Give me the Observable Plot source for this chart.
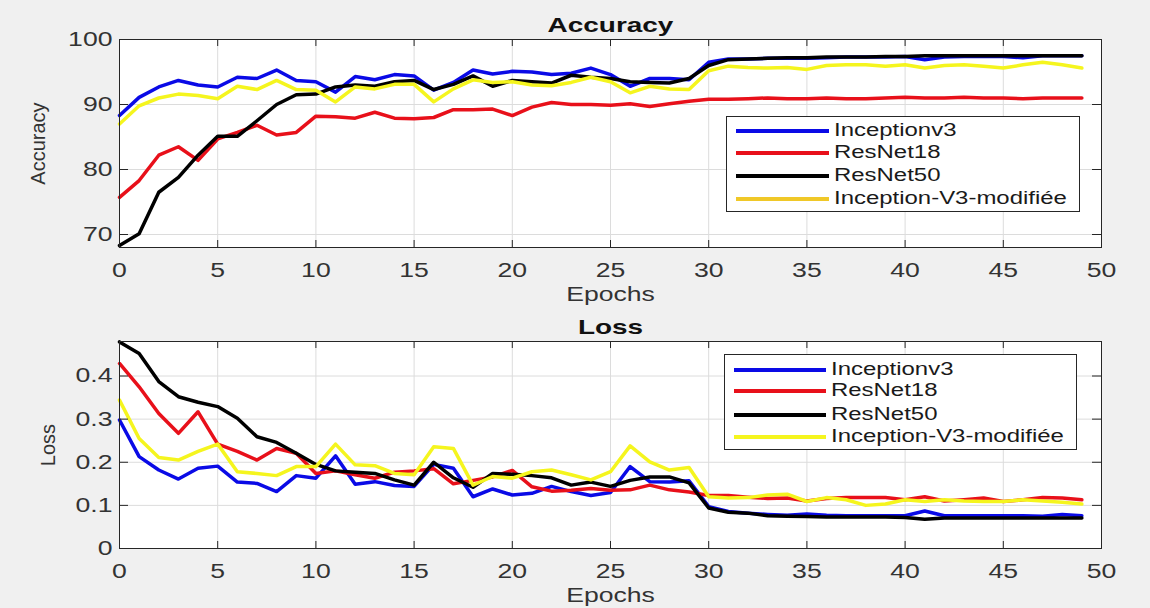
<!DOCTYPE html>
<html>
<head>
<meta charset="utf-8">
<script src="https://cdn.jsdelivr.net/npm/d3@7"></script>
<script src="https://cdn.jsdelivr.net/npm/@observablehq/plot@0.6"></script>
<style>
  html, body { margin: 0; padding: 0; background: #f0f0f0; }
  #wrap { position: relative; width: 1150px; height: 608px; background: #f0f0f0; overflow: hidden; font-family: "Liberation Sans", Arial, sans-serif; }
  .panel { position: absolute; left: 0; width: 1150px; height: 304px; }
  .legend { position: absolute; background: #fff; border: 1px solid #262626; box-sizing: border-box; }
  .swatch { position: absolute; height: 3.5px; }
  .label { position: absolute; font-size: 18px; line-height: 18px; color: #1a1a1a; white-space: nowrap; transform: scaleX(1.33); transform-origin: left center; }
</style>
</head>
<body>
<div id="wrap"></div>
<script>
// ---------- data ----------
const seriesNames = ["Inceptionv3", "ResNet18", "ResNet50", "Inception-V3-modifiée"];
const seriesColors = ["#0a0ae6", "#e8101a", "#000000", "#f5f51e"];
const legendTopColors = ["#0a0ae6", "#e8101a", "#000000", "#f0c828"];

const epochs = d3.range(0, 50);
const xTicks = [0, 5, 10, 15, 20, 25, 30, 35, 40, 45, 50];
const accTicks = [70, 80, 90, 100];
const lossTicks = [0, 0.1, 0.2, 0.3, 0.4];

const accInceptionv3 = [88.3, 91.1, 92.7, 93.7, 93.0, 92.7, 94.2, 94.0, 95.3, 93.7,
  93.5, 91.9, 94.3, 93.8, 94.6, 94.4, 92.2, 93.4, 95.3, 94.7,
  95.1, 95.0, 94.6, 94.8, 95.6, 94.6, 92.8, 94.0, 94.0, 93.8,
  96.5, 97.0, 97.0, 97.1, 97.1, 97.1, 97.2, 97.3, 97.3, 97.3,
  97.4, 96.9, 97.3, 97.4, 97.4, 97.4, 97.2, 97.5, 97.5, 97.5];
const accResNet18 = [75.7, 78.3, 82.2, 83.5, 81.4, 84.7, 85.7, 86.8, 85.3, 85.7,
  88.2, 88.1, 87.9, 88.8, 87.9, 87.8, 88.0, 89.2, 89.2, 89.3,
  88.3, 89.6, 90.3, 90.0, 90.0, 89.9, 90.1, 89.7, 90.1, 90.5,
  90.8, 90.8, 90.9, 91.0, 90.9, 90.9, 91.0, 90.9, 90.9, 91.0,
  91.1, 91.0, 91.0, 91.1, 91.0, 91.0, 90.9, 91.0, 91.0, 91.0];
const accResNet50 = [68.3, 70.1, 76.5, 78.8, 82.2, 85.1, 85.1, 87.5, 90.0, 91.5,
  91.6, 92.7, 93.0, 92.8, 93.5, 93.7, 92.3, 93.1, 94.4, 92.8,
  93.7, 93.5, 93.3, 94.5, 94.2, 94.0, 93.5, 93.4, 93.3, 94.0,
  96.0, 96.9, 97.0, 97.1, 97.2, 97.2, 97.3, 97.3, 97.3, 97.4,
  97.4, 97.5, 97.5, 97.5, 97.5, 97.5, 97.5, 97.5, 97.5, 97.5];
const accModified = [87.0, 89.8, 91.0, 91.6, 91.4, 90.9, 92.8, 92.3, 93.7, 92.3,
  92.2, 90.4, 92.7, 92.4, 93.1, 93.1, 90.4, 92.4, 93.8, 93.4,
  93.5, 93.0, 92.9, 93.4, 94.2, 93.5, 91.8, 92.8, 92.4, 92.3,
  95.2, 95.9, 95.7, 95.6, 95.7, 95.4, 96.0, 96.1, 96.1, 95.9,
  96.1, 95.6, 96.0, 96.1, 95.9, 95.6, 96.1, 96.5, 96.1, 95.6];

const lossInceptionv3 = [0.298, 0.213, 0.182, 0.161, 0.186, 0.191, 0.154, 0.151, 0.132, 0.169,
  0.163, 0.215, 0.149, 0.155, 0.146, 0.144, 0.195, 0.186, 0.120, 0.138,
  0.124, 0.128, 0.144, 0.132, 0.123, 0.130, 0.190, 0.155, 0.154, 0.157,
  0.097, 0.086, 0.082, 0.079, 0.077, 0.080, 0.077, 0.076, 0.076, 0.076,
  0.076, 0.087, 0.076, 0.076, 0.076, 0.076, 0.076, 0.075, 0.079, 0.076];
const lossResNet18 = [0.429, 0.375, 0.313, 0.267, 0.317, 0.242, 0.225, 0.205, 0.232, 0.221,
  0.174, 0.180, 0.171, 0.163, 0.177, 0.180, 0.185, 0.150, 0.158, 0.166,
  0.181, 0.143, 0.133, 0.135, 0.139, 0.135, 0.136, 0.147, 0.136, 0.131,
  0.123, 0.123, 0.119, 0.116, 0.117, 0.110, 0.116, 0.118, 0.118, 0.118,
  0.113, 0.120, 0.110, 0.113, 0.117, 0.109, 0.113, 0.118, 0.117, 0.113];
const lossResNet50 = [0.479, 0.452, 0.387, 0.352, 0.339, 0.329, 0.302, 0.259, 0.246, 0.221,
  0.195, 0.180, 0.177, 0.174, 0.159, 0.147, 0.200, 0.164, 0.142, 0.174,
  0.172, 0.169, 0.164, 0.147, 0.154, 0.144, 0.158, 0.166, 0.166, 0.152,
  0.094, 0.084, 0.082, 0.076, 0.075, 0.074, 0.073, 0.073, 0.073, 0.073,
  0.072, 0.068, 0.071, 0.071, 0.071, 0.071, 0.071, 0.071, 0.071, 0.071];
const lossModified = [0.344, 0.255, 0.211, 0.205, 0.225, 0.242, 0.178, 0.174, 0.169, 0.190,
  0.190, 0.242, 0.194, 0.192, 0.174, 0.171, 0.236, 0.232, 0.147, 0.167,
  0.163, 0.178, 0.182, 0.171, 0.159, 0.178, 0.238, 0.201, 0.182, 0.188,
  0.120, 0.117, 0.118, 0.124, 0.126, 0.109, 0.118, 0.113, 0.100, 0.103,
  0.113, 0.109, 0.113, 0.110, 0.109, 0.109, 0.113, 0.110, 0.107, 0.103];

// long-format tables built from the arrays
function toRows(arrays) {
  const rows = [];
  arrays.forEach((arr, i) => arr.forEach((v, j) => rows.push({epoch: epochs[j], value: v, series: seriesNames[i]})));
  return rows;
}
const accRows = toRows([accInceptionv3, accResNet18, accResNet50, accModified]);
const lossRows = toRows([lossInceptionv3, lossResNet18, lossResNet50, lossModified]);

// ---------- chart ----------
const W = 1150, H = 304;
const FONT = "'Liberation Sans', Arial, Helvetica, sans-serif";
const gridColor = "#dcdcdc";
const axisColor = "#262626";
const fmt = d => String(d);

function panel({rows, yDomain, yTicks, title, ylabel, mt, mb, ml, mr, ylabelOffset}) {
  const fw = W - ml - mr, fh = H - mt - mb;
  const tx = 7, ty = 9; // inner tick lengths
  return Plot.plot({
    width: W, height: H,
    marginTop: mt, marginBottom: mb, marginLeft: ml, marginRight: mr,
    style: {background: "transparent", fontFamily: FONT, fontSize: "20px", color: "#333333", overflow: "visible"},
    x: {domain: [0, 50]},
    y: {domain: yDomain},
    color: {domain: seriesNames, range: seriesColors},
    marks: [
      Plot.frame({fill: "white", stroke: null}),
      Plot.gridX(xTicks, {stroke: gridColor, strokeOpacity: 1}),
      Plot.gridY(yTicks, {stroke: gridColor, strokeOpacity: 1}),
      Plot.line(rows, {x: "epoch", y: "value", z: "series", stroke: "series", strokeWidth: 3.5, strokeLinejoin: "round", strokeLinecap: "round"}),
      Plot.tickX(xTicks, {x: d => d, insetTop: fh - tx, stroke: axisColor}),
      Plot.tickX(xTicks, {x: d => d, insetBottom: fh - tx, stroke: axisColor}),
      Plot.tickY(yTicks, {y: d => d, insetLeft: fw - ty, stroke: axisColor}),
      Plot.tickY(yTicks, {y: d => d, insetRight: fw - ty, stroke: axisColor}),
      Plot.frame({stroke: axisColor, strokeWidth: 1}),
      Plot.axisX({ticks: xTicks, tickFormat: fmt, tickSize: 0, tickPadding: 15, fontSize: 20, fill: "#333333",
        label: "Epochs", labelAnchor: "center", labelOffset: 53, labelArrow: "none"}),
      Plot.axisY({ticks: yTicks, tickFormat: fmt, tickSize: 0, tickPadding: 7, fontSize: 20, fill: "#333333",
        label: ylabel, labelAnchor: "center", labelOffset: ylabelOffset, labelArrow: "none"}),
      Plot.text([title], {text: d => d, frameAnchor: "top", lineAnchor: "bottom", dy: -8,
        fontWeight: "bold", fontSize: 21, fill: "#111111"})
    ]
  });
}

const wrap = document.getElementById("wrap");

const topPlot = panel({rows: accRows, yDomain: [68, 100], yTicks: accTicks, title: "Accuracy", ylabel: "Accuracy",
  mt: 39, mb: 57, ml: 119, mr: 49, ylabelOffset: 89});
const botPlot = panel({rows: lossRows, yDomain: [0, 0.48], yTicks: lossTicks, title: "Loss", ylabel: "Loss",
  mt: 37, mb: 60, ml: 119, mr: 49, ylabelOffset: 79});

const p1 = document.createElement("div"); p1.className = "panel"; p1.style.top = "0px"; p1.appendChild(topPlot);
const p2 = document.createElement("div"); p2.className = "panel"; p2.style.top = "304px"; p2.appendChild(botPlot);
wrap.appendChild(p1); wrap.appendChild(p2);

// ---------- legends (HTML overlays) ----------
function legend(box, rowsY, lineX0, lineX1, textX, colors) {
  const lg = document.createElement("div");
  lg.className = "legend";
  lg.style.left = box.x0 + "px"; lg.style.top = box.y0 + "px";
  lg.style.width = (box.x1 - box.x0) + "px"; lg.style.height = (box.y1 - box.y0) + "px";
  wrap.appendChild(lg);
  seriesNames.forEach((name, i) => {
    const sw = document.createElement("div");
    sw.className = "swatch";
    sw.style.left = (lineX0 - box.x0) + "px";
    sw.style.width = (lineX1 - lineX0) + "px";
    sw.style.top = (rowsY[i] - box.y0 - 2) + "px";
    sw.style.background = colors[i];
    lg.appendChild(sw);
    const tx = document.createElement("div");
    tx.className = "label";
    tx.textContent = name;
    tx.style.left = (textX - box.x0) + "px";
    tx.style.top = (rowsY[i] - box.y0 - 10) + "px";
    lg.appendChild(tx);
  });
}
legend({x0: 726, y0: 116, x1: 1080, y1: 212}, [130, 152, 175, 198], 735, 828, 833, legendTopColors);
legend({x0: 724, y0: 354, x1: 1077, y1: 450}, [369, 390, 414, 436], 733, 825, 830, seriesColors);

// ---------- widen horizontal SVG text to match the reference's stretched glyphs ----------
const STRETCH = 1.33;
document.querySelectorAll("#wrap svg text").forEach(t => {
  const tr = t.getAttribute("transform") || "";
  const parentTr = (t.parentNode && t.parentNode.getAttribute && t.parentNode.getAttribute("transform")) || "";
  if (/rotate/.test(tr) || /rotate/.test(parentTr)) return;
  const L = t.getComputedTextLength();
  if (L > 0) {
    t.setAttribute("textLength", (L * STRETCH).toFixed(1));
    t.setAttribute("lengthAdjust", "spacingAndGlyphs");
  }
});
</script>
</body>
</html>
